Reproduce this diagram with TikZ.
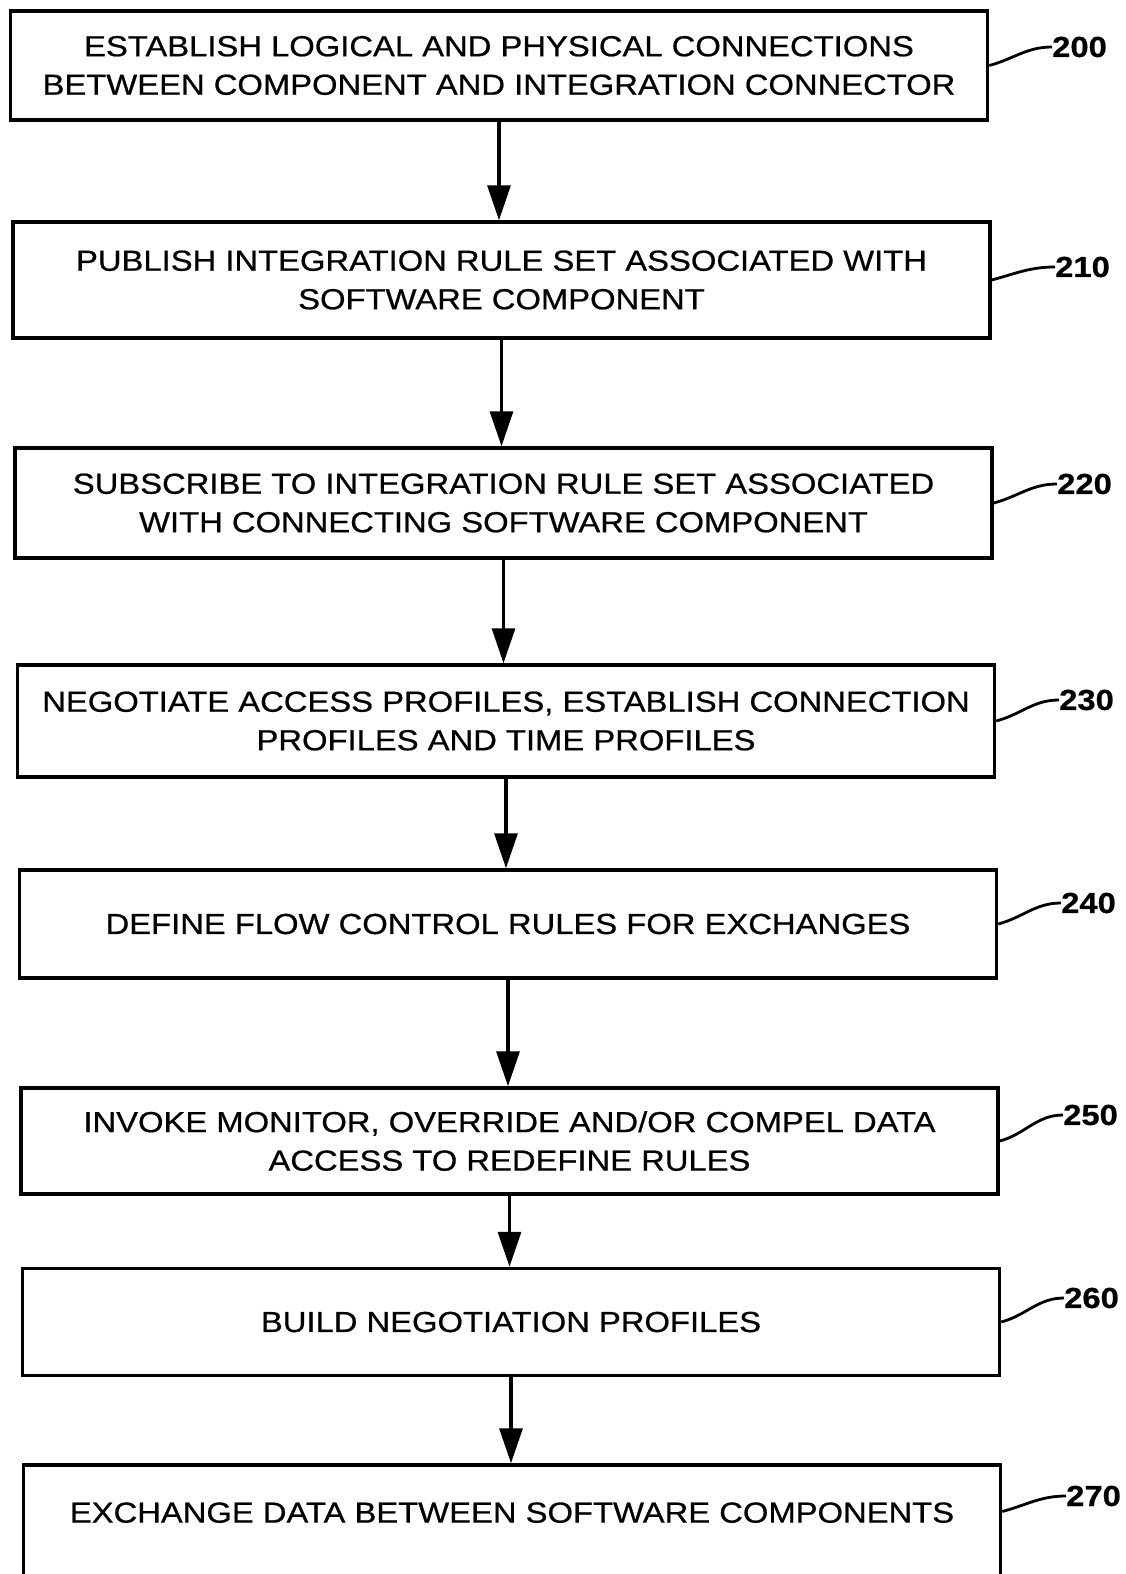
\documentclass[tikz,border=0pt]{standalone}
\usepackage{fontspec}
\setmainfont{Liberation Sans}[FakeStretch=1.13, FakeBold=0.6]
\usetikzlibrary{arrows.meta}

\begin{document}
\begin{tikzpicture}[x=1pt, y=-1pt,
  stepbox/.style={draw, line width=3.5pt, align=center, inner sep=0pt,
    minimum width=977, font=\fontsize{29}{38.5}\selectfont},
  reflabel/.style={anchor=west, inner sep=0pt, font=\fontsize{29}{30}\selectfont\bfseries},
  leader/.style={line width=2.8pt},
  flow/.style={line width=3.2pt, -{Triangle[length=35pt,width=23pt]}}]

  \clip (0,0) rectangle (1125,1574);

  % process steps
  \node[stepbox, minimum height=109] (s200) at (499,65.5)
    {ESTABLISH LOGICAL AND PHYSICAL CONNECTIONS\\BETWEEN COMPONENT AND INTEGRATION CONNECTOR};
  \node[stepbox, minimum height=116] (s210) at (501.5,280)
    {PUBLISH INTEGRATION RULE SET ASSOCIATED WITH\\SOFTWARE COMPONENT};
  \node[stepbox, minimum height=110] (s220) at (503.5,503)
    {SUBSCRIBE TO INTEGRATION RULE SET ASSOCIATED\\WITH CONNECTING SOFTWARE COMPONENT};
  \node[stepbox, minimum height=112] (s230) at (506,721)
    {NEGOTIATE ACCESS PROFILES, ESTABLISH CONNECTION\\PROFILES AND TIME PROFILES};
  \node[stepbox, minimum height=108] (s240) at (508,924)
    {DEFINE FLOW CONTROL RULES FOR EXCHANGES};
  \node[stepbox, minimum height=106] (s250) at (509.5,1141)
    {INVOKE MONITOR, OVERRIDE AND/OR COMPEL DATA\\ACCESS TO REDEFINE RULES};
  \node[stepbox, minimum height=107] (s260) at (511,1322)
    {BUILD NEGOTIATION PROFILES};
  \node[stepbox, minimum height=125, text depth=30pt] (s270) at (512,1527.5)
    {EXCHANGE DATA BETWEEN SOFTWARE COMPONENTS};

  % reference numerals
  \node[reflabel] (l200) at (1052,47) {200};
  \node[reflabel] (l210) at (1055,267) {210};
  \node[reflabel] (l220) at (1057,484) {220};
  \node[reflabel] (l230) at (1059,700) {230};
  \node[reflabel] (l240) at (1061,903) {240};
  \node[reflabel] (l250) at (1063,1115) {250};
  \node[reflabel] (l260) at (1064,1298) {260};
  \node[reflabel] (l270) at (1066,1496) {270};

  \draw[leader] (s200.east) to[out=15, in=180] (l200.west);
  \draw[leader] (s210.east) to[out=15, in=180] (l210.west);
  \draw[leader] (s220.east) to[out=15, in=180] (l220.west);
  \draw[leader] (s230.east) to[out=15, in=180] (l230.west);
  \draw[leader] (s240.east) to[out=15, in=180] (l240.west);
  \draw[leader] (s250.east) to[out=15, in=180] (l250.west);
  \draw[leader] (s260.east) to[out=15, in=180] (l260.west);
  \draw[leader] ([yshift=16pt]s270.east) to[out=15, in=180] (l270.west);

  % flow arrows
  \draw[flow] (s200.south) -- (s200.south |- s210.north);
  \draw[flow] (s210.south) -- (s210.south |- s220.north);
  \draw[flow] (s220.south) -- (s220.south |- s230.north);
  \draw[flow] (s230.south) -- (s230.south |- s240.north);
  \draw[flow] (s240.south) -- (s240.south |- s250.north);
  \draw[flow] (s250.south) -- (s250.south |- s260.north);
  \draw[flow] (s260.south) -- (s260.south |- s270.north);

\end{tikzpicture}
\end{document}
